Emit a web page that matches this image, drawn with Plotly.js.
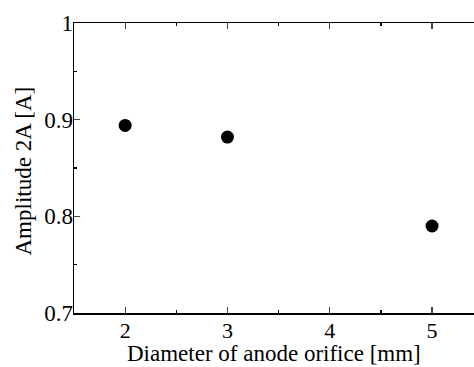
<!DOCTYPE html>
<html><head><meta charset="utf-8">
<script src="https://cdn.plot.ly/plotly-3.0.1.min.js"></script>
<style>html,body{margin:0;padding:0;background:#fff;overflow:hidden}#c{width:474px;height:367px}</style>
</head><body><div id="c"></div>
<script>
const diameters = [2, 3, 5];
const amplitudes = [0.894, 0.882, 0.790];
const xTicks = [2, 3, 4, 5];
const yTicks = [0.7, 0.8, 0.9, 1];
const yTickLabels = ['0.7', '0.8', '0.9', '1'];
const xTitle = 'Diameter of anode orifice [mm]';
const yTitle = 'Amplitude 2A [A]';

const font = {family: '"Liberation Serif", "Times New Roman", serif', color: '#000'};
Plotly.newPlot('c', [{
  x: diameters, y: amplitudes, type: 'scatter', mode: 'markers',
  marker: {color: '#000', size: 13}
}], {
  width: 474, height: 367,
  margin: {l: 74, r: 0, t: 23, b: 54},
  paper_bgcolor: '#fff', plot_bgcolor: '#fff',
  showlegend: false,
  font: Object.assign({size: 22}, font),
  xaxis: {
    range: [1.5, 5.41], tickvals: xTicks, ticks: 'inside', ticklen: 6, tickwidth: 1.3,
    showline: true, linecolor: '#000', linewidth: 1.5, mirror: 'ticks', showgrid: false, zeroline: false,
    tickfont: Object.assign({size: 22}, font), ticklabelstandoff: -3,
    minor: {dtick: 0.5, tick0: 1.5, ticks: 'inside', ticklen: 3, tickcolor: '#000'}
  },
  yaxis: {
    range: [0.7, 1], tickvals: yTicks, ticktext: yTickLabels, ticks: 'inside', ticklen: 6, tickwidth: 1.3,
    showline: true, linecolor: '#000', linewidth: 1.5, mirror: false, showgrid: false, zeroline: false,
    tickfont: Object.assign({size: 23}, font), ticklabelstandoff: -5,
    minor: {dtick: 0.05, tick0: 0.7, ticks: 'inside', ticklen: 3, tickcolor: '#000'}
  },
  annotations: [
    {text: xTitle, xref: 'paper', yref: 'paper', x: 0.5, y: -0.138, yanchor: 'middle',
     showarrow: false, font: Object.assign({size: 23}, font)},
    {text: yTitle, xref: 'paper', yref: 'paper', x: -0.126, xanchor: 'center', y: 0.49,
     textangle: -90, showarrow: false, font: Object.assign({size: 23}, font)}
  ]
}, {staticPlot: true});
</script></body></html>
